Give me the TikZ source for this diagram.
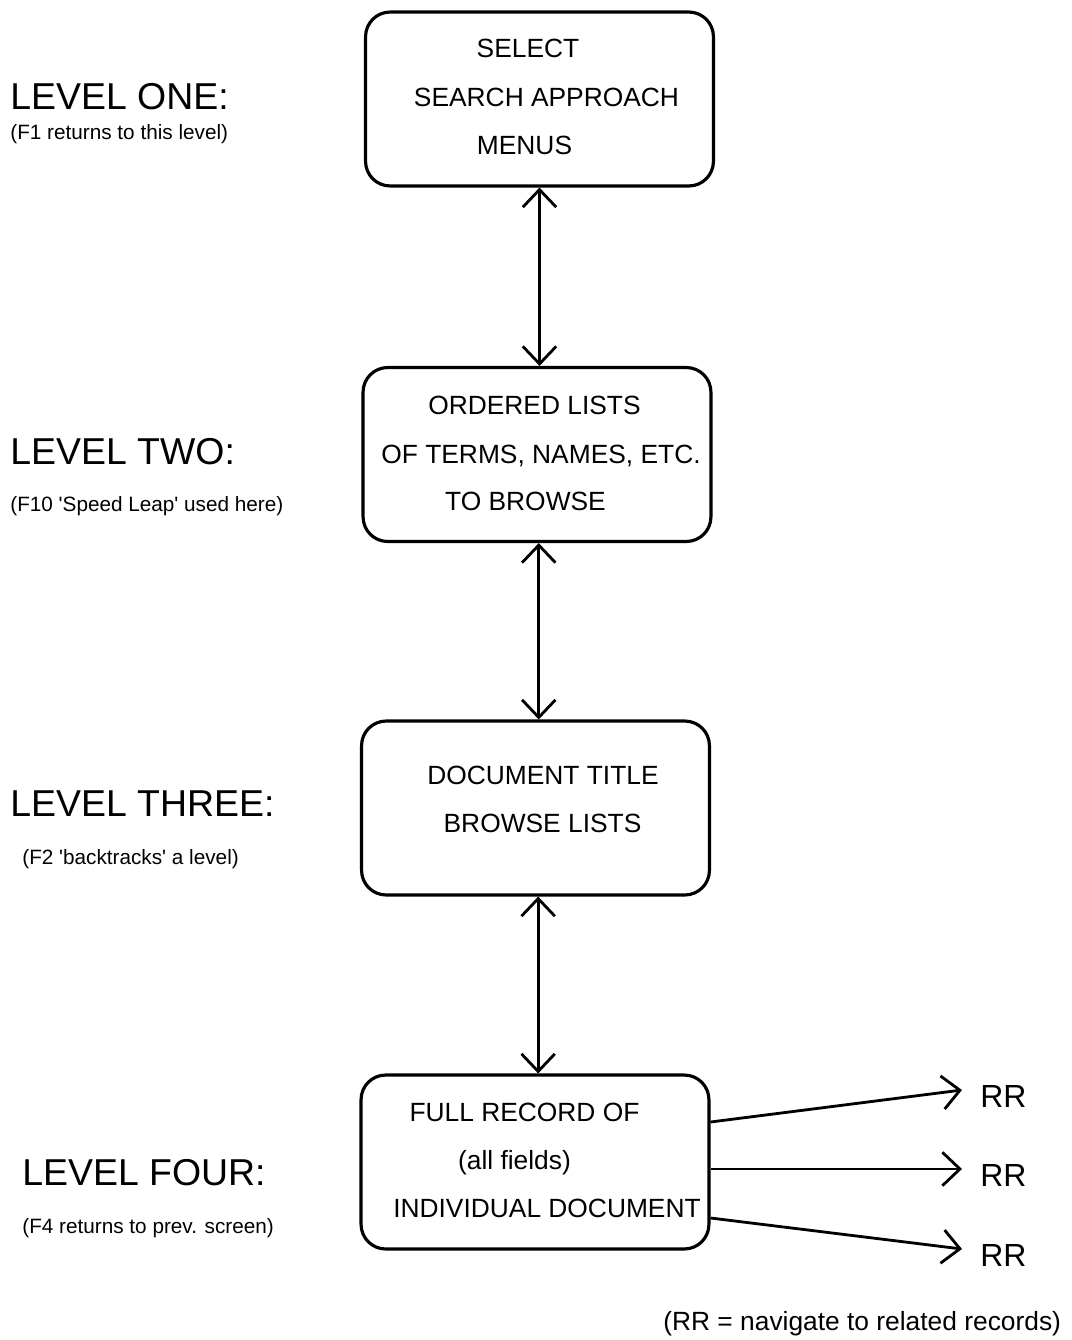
\documentclass[tikz,border=0pt]{standalone}
\usepackage{fontspec}
\setmainfont{Liberation Sans}
\usetikzlibrary{arrows.meta,calc}

\begin{document}
\begin{tikzpicture}[x=0.02cm,y=-0.02cm,
        >={Straight Barb[length=10pt,width=19pt]},
        levelbox/.style={draw,line width=1.8pt,rounded corners=14pt,minimum width=198pt,minimum height=99pt},
        boxtext/.style={font=\fontsize{15}{18}\selectfont,inner sep=0pt,text height=10.7pt,text depth=0pt},
        leveltext/.style={anchor=west,font=\fontsize{21.3}{25}\selectfont,inner sep=0pt,text height=15.2pt,text depth=0pt},
        notetext/.style={anchor=west,font=\fontsize{11.8}{14}\selectfont,inner sep=0pt,text height=8.5pt,text depth=0pt},
        rrtext/.style={anchor=west,font=\fontsize{18.2}{22}\selectfont,inner sep=0pt,text height=13pt,text depth=0pt},
        link/.style={line width=1.6pt}]
    \useasboundingbox (0,0) rectangle (1072,1340);

    % the four levels
    \node[levelbox] (b1) at (539.5,99) {};
    \node[levelbox] (b2) at (537,454.5) {};
    \node[levelbox] (b3) at (535.5,808) {};
    \node[levelbox] (b4) at (535,1162) {};

    \node[boxtext] (t11) at (528,48) {SELECT};
    \node[boxtext] (t12) at (546.5,97) {SEARCH APPROACH};
    \node[boxtext] (t13) at (524.5,145) {MENUS};

    \node[boxtext] (t21) at (534.5,405) {ORDERED LISTS};
    \node[boxtext] (t22) at (541,454) {OF TERMS, NAMES, ETC.};
    \node[boxtext] (t23) at (525.5,501) {TO BROWSE};

    \node[boxtext] (t31) at (543,775) {DOCUMENT TITLE};
    \node[boxtext] (t32) at (542.5,823) {BROWSE LISTS};

    \node[boxtext] (t41) at (524.5,1112) {FULL RECORD OF};
    \node[boxtext] (t42) at (514.5,1160) {(all fields)};
    \node[boxtext] (t43) at (547,1208) {INDIVIDUAL DOCUMENT};

    \draw[link,<->] (b1.south) -- (b1.south |- b2.north);
    \draw[link,<->] ([xshift=1pt]b2.south) -- ([xshift=1pt]b2.south |- b3.north);
    \draw[link,<->] ([xshift=1.5pt]b3.south) -- ([xshift=1.5pt]b3.south |- b4.north);

    % labels on the left
    \node[leveltext] (l1) at (10,96) {LEVEL ONE:};
    \node[notetext] (n1) at (10,132) {(F1 returns to this level)};
    \node[leveltext] (l2) at (10,451) {LEVEL TWO:};
    \node[notetext] (n2) at (10,504) {(F10 \textquotesingle Speed Leap\textquotesingle{} used here)};
    \node[leveltext] (l3) at (10,803) {LEVEL THREE:};
    \node[notetext] (n3) at (22,857) {(F2 \textquotesingle backtracks\textquotesingle{} a level)};
    \node[leveltext] (l4) at (22,1172) {LEVEL FOUR:};
    \node[notetext] (n4) at (22,1226) {(F4 returns to prev. screen)};

    % related records
    \node[rrtext] (rr1) at (980,1096) {RR};
    \node[rrtext] (rr2) at (980,1175) {RR};
    \node[rrtext] (rr3) at (980,1255) {RR};
    \draw[link,->] ($(b4.east)+(0,-40)$) -- ($(rr1.west)+(-18,-6)$);
    \draw[link,->] ($(b4.east)+(0,7)$) -- ($(rr2.west)+(-18,-6)$);
    \draw[link,->] ($(b4.east)+(0,56)$) -- ($(rr3.west)+(-18,-6)$);

    \node[anchor=west,font=\fontsize{15}{18}\selectfont,inner sep=0pt,text height=10.7pt,text depth=0pt] (note) at (663,1321) {(RR = navigate to related records)};
\end{tikzpicture}
\end{document}
